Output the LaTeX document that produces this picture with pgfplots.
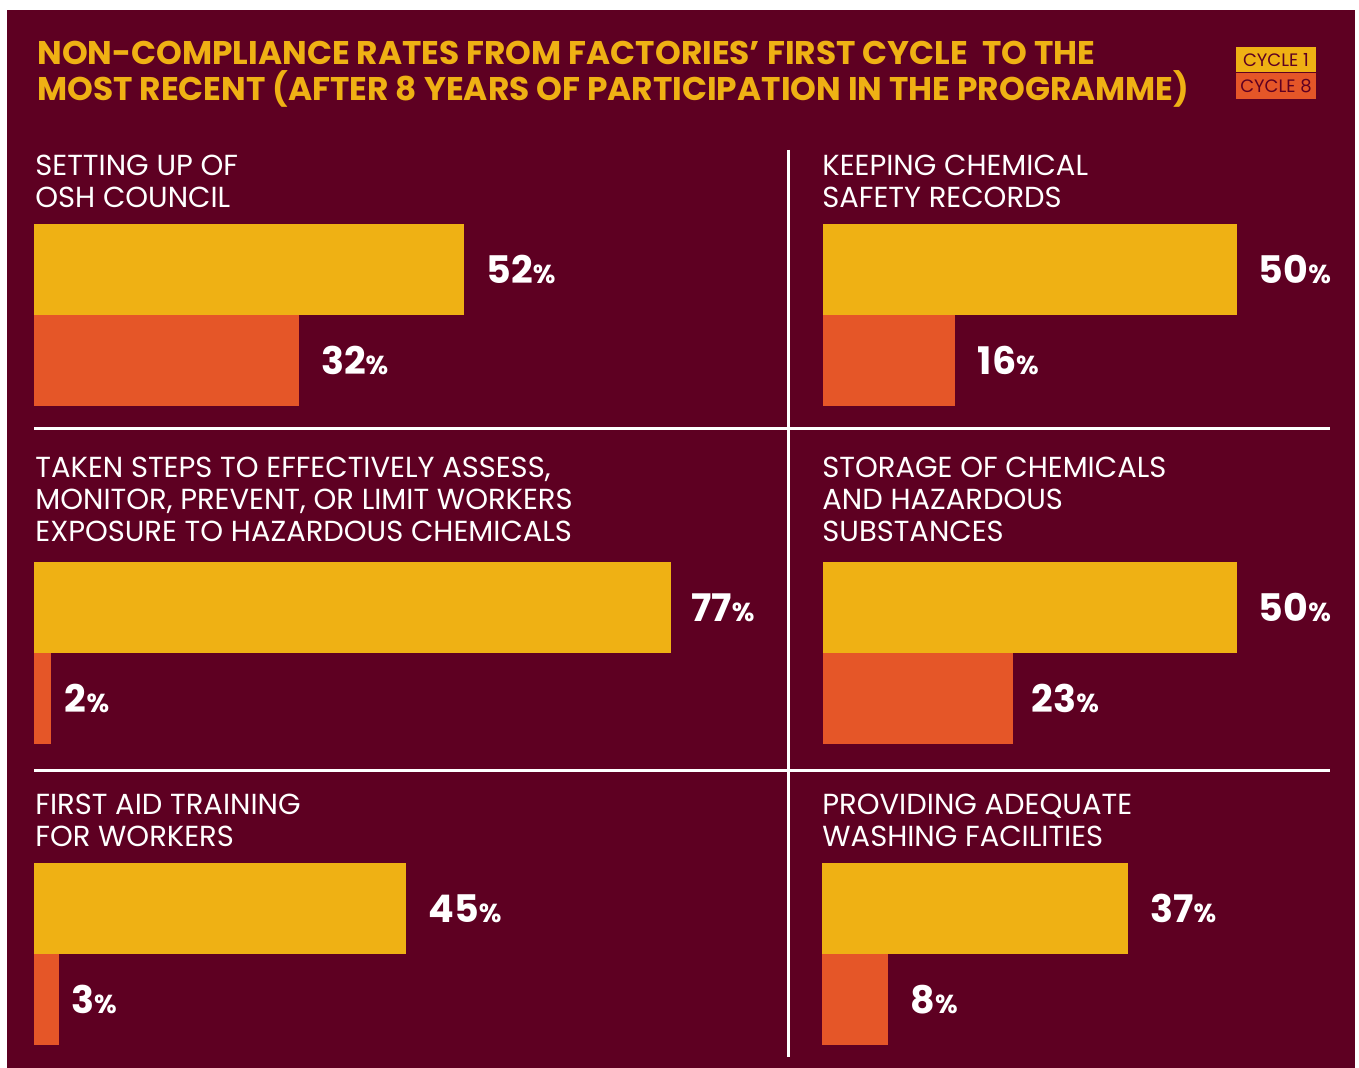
\documentclass[border=0pt]{standalone}
\usepackage{pgfplots}
\pgfplotsset{compat=1.18}
\usepackage{fontspec}
\setmainfont{Poppins}
\definecolor{bg}{HTML}{5E0022}
\definecolor{cyel}{HTML}{EFB114}
\definecolor{corg}{HTML}{E55628}
\newcommand{\pct}[1]{{\fontsize{19pt}{19pt}\selectfont\bfseries #1{\fontsize{13pt}{13pt}\selectfont\%}}}
\pgfplotsset{
  nshift/.initial=11pt,
  panel/.style={
    hide axis, clip=false,
    xmin=0, xmax=100, ymin=-0.5, ymax=1.5,
    x=4.135pt, y=45.5pt,
    anchor=south west,
    point meta=x,
    /pgf/number format/assume math mode=true,
    nodes near coords={\pct{\pgfmathprintnumber{\pgfplotspointmeta}}},
    nodes near coords align=horizontal,
    every node near coord/.append style={text=white, anchor=west, inner sep=0pt, xshift=\pgfkeysvalueof{/pgfplots/nshift}},
  },
  yel/.style={xbar, bar width=45.5pt, fill=cyel, draw=none},
  org/.style={xbar, bar width=45.5pt, fill=corg, draw=none},
}
\begin{document}
\begin{tikzpicture}
\begin{scope}[x=0.5pt,y=-0.5pt]
\fill[white] (0,0) rectangle (1359,1068);
\fill[bg] (7,10) rectangle (1355,1068);
% title
\begin{scope}[every node/.style={anchor=base west, inner sep=0pt, text=cyel, font=\fontsize{16.4pt}{16.4pt}\selectfont\bfseries}]
\node at (37,65) {NON-COMPLIANCE RATES FROM FACTORIES’ FIRST CYCLE\ \ TO THE};
\node at (37,101) {MOST RECENT (AFTER 8 YEARS OF PARTICIPATION IN THE PROGRAMME)};
\end{scope}
% legend
\fill[cyel] (1236,47) rectangle (1316,72);
\fill[corg] (1236,73) rectangle (1316,99);
\node[text=bg, font=\fontsize{9pt}{9pt}\selectfont] at (1276,60) {CYCLE 1};
\node[text=bg, font=\fontsize{9pt}{9pt}\selectfont] at (1276,86) {CYCLE 8};
% separators
\draw[white, line width=1.5pt] (788,150) -- (788,1057);
\draw[white, line width=1.5pt] (34,429) -- (1330,429);
\draw[white, line width=1.5pt] (34,770) -- (1330,770);
% panel labels
\begin{scope}[every node/.style={anchor=base west, inner sep=0pt, text=white, font=\fontsize{14.5pt}{14.5pt}\selectfont}]
\node at (35,176) {SETTING UP OF};
\node at (35,208) {OSH COUNCIL};
\node at (822,176) {KEEPING CHEMICAL};
\node at (822,208) {SAFETY RECORDS};
\node at (35,478) {TAKEN STEPS TO EFFECTIVELY ASSESS,};
\node at (35,510) {MONITOR, PREVENT, OR LIMIT WORKERS};
\node at (35,542) {EXPOSURE TO HAZARDOUS CHEMICALS};
\node at (822,478) {STORAGE OF CHEMICALS};
\node at (822,510) {AND HAZARDOUS};
\node at (822,542) {SUBSTANCES};
\node at (35,814) {FIRST AID TRAINING};
\node at (35,846) {FOR WORKERS};
\node at (822,814) {PROVIDING ADEQUATE};
\node at (822,846) {WASHING FACILITIES};
\end{scope}
\end{scope}
% panels
\begin{axis}[panel, at={(17pt,-203pt)}]
\addplot[yel] coordinates {(52,1)};
\addplot[org] coordinates {(32,0)};
\end{axis}
\begin{axis}[panel, at={(411.5pt,-203pt)}]
\addplot[yel] coordinates {(50,1)};
\addplot[org] coordinates {(16,0)};
\end{axis}
\begin{axis}[panel, at={(17pt,-372pt)}]
\addplot[yel, nshift=10pt] coordinates {(77,1)};
\addplot[org, nshift=7pt] coordinates {(2,0)};
\end{axis}
\begin{axis}[panel, at={(411.5pt,-372pt)}]
\addplot[yel] coordinates {(50,1)};
\addplot[org, nshift=9pt] coordinates {(23,0)};
\end{axis}
\begin{axis}[panel, at={(17pt,-522.5pt)}]
\addplot[yel] coordinates {(45,1)};
\addplot[org, nshift=6pt] coordinates {(3,0)};
\end{axis}
\begin{axis}[panel, at={(411pt,-522.5pt)}]
\addplot[yel] coordinates {(37,1)};
\addplot[org] coordinates {(8,0)};
\end{axis}
\end{tikzpicture}
\end{document}
